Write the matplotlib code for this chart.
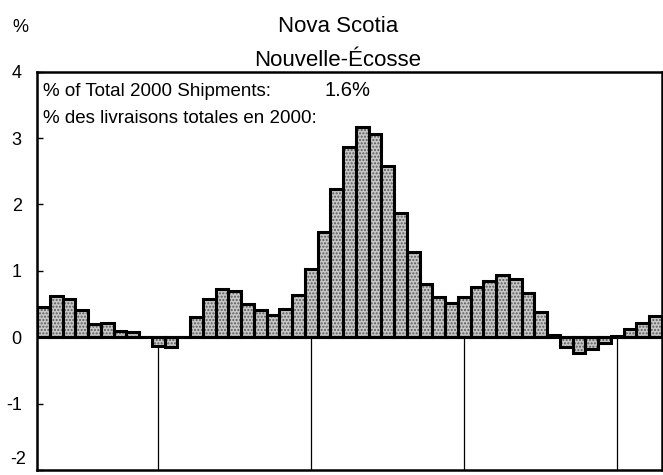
import matplotlib
matplotlib.use("Agg")
import matplotlib.pyplot as plt
import numpy as np

plt.rcParams['font.family'] = ['Liberation Sans', 'DejaVu Sans']

# ---- data ----
values = [0.46, 0.62, 0.58, 0.41, 0.20, 0.22, 0.09, 0.08, 0.00, -0.13,
          -0.15, 0.00, 0.30, 0.58, 0.73, 0.70, 0.50, 0.41, 0.34, 0.43,
          0.64, 1.03, 1.59, 2.23, 2.86, 3.17, 3.06, 2.58, 1.87, 1.28,
          0.80, 0.60, 0.52, 0.60, 0.75, 0.85, 0.93, 0.87, 0.67, 0.38,
          0.04, -0.14, -0.23, -0.18, -0.09, 0.02, 0.13, 0.22, 0.32]
year_mark_bars = [9, 21, 33, 45]
yticks = [-2, -1, 0, 1, 2, 3, 4]
title_en = "Nova Scotia"
title_fr = "Nouvelle-Écosse"
share_label_en = "% of Total 2000 Shipments:"
share_label_fr = "% des livraisons totales en 2000:"
share_value = "1.6%"
unit_label = "%"

W, H = 663, 475
fig = plt.figure(figsize=(W / 100, H / 100), dpi=100)
ax = fig.add_axes([37 / W, 1 - 470 / H, (662 - 37) / W, (470 - 71.7) / H])

n = len(values)
x = np.arange(n) + 0.5
# stippled fill
ax.bar(x, values, width=1.0, color='#c8c8c8', edgecolor='#5a5a5a',
       linewidth=0, hatch='.....', zorder=2)
# outlines
ax.bar(x, values, width=1.0, fill=False, edgecolor='black',
       linewidth=2.2, zorder=3)

ax.axhline(0, color='black', linewidth=2.2, zorder=4)
for b in year_mark_bars:
    ax.plot([b + 0.5, b + 0.5], [0, -2], color='black', linewidth=0.9, zorder=1)

ax.set_xlim(0, n)
ax.set_ylim(-2, 4)
ax.set_yticks(yticks)
# the lowest label is drawn separately, slightly raised, so it stays on the canvas
ax.set_yticklabels(['' if t == yticks[0] else str(t) for t in yticks])
ax.set_xticks([])
ax.tick_params(axis='y', direction='in', length=4, width=1, labelsize=13,
               pad=11)
for s in ax.spines.values():
    s.set_linewidth(1.8)

ax.annotate(str(yticks[0]), xy=(0, yticks[0]),
            xycoords=('axes fraction', 'data'),
            xytext=(-11 * 0.72, 1.5), textcoords='offset points',
            ha='right', va='bottom', fontsize=13, annotation_clip=False)

fig.text(20 / W, 1 - 32 / H, unit_label, ha='center', va='baseline', fontsize=13)
fig.text(338 / W, 1 - 32 / H, title_en, ha='center', va='baseline', fontsize=16)
fig.text(338 / W, 1 - 66.5 / H, title_fr, ha='center', va='baseline', fontsize=16)
fig.text(43 / W, 1 - 96.5 / H, share_label_en, ha='left', va='baseline', fontsize=13.5)
fig.text(325 / W, 1 - 96.5 / H, share_value, ha='left', va='baseline', fontsize=14.5)
fig.text(43 / W, 1 - 123 / H, share_label_fr, ha='left', va='baseline', fontsize=13.5)

fig.savefig("out.png", dpi=100)
